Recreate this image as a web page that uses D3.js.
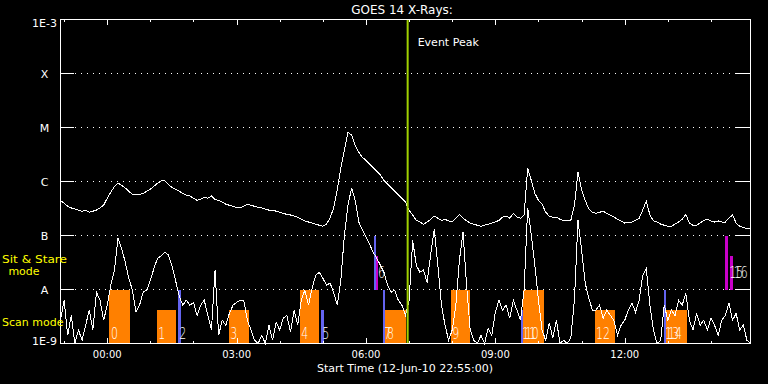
<!DOCTYPE html>
<meta charset="utf-8">
<style>
body{margin:0;background:#000;}
svg{display:block;background:#000;font-family:"DejaVu Sans",sans-serif;}
</style>
<body>
<script src="https://d3js.org/d3.v7.min.js"></script>
<script>
const width = 768, height = 384;
const startTime = new Date(Date.UTC(2010, 5, 12, 22, 55));
const endTime = new Date(Date.UTC(2010, 5, 13, 14, 55));
const stepMin = 5;
const eventPeak = new Date(Date.UTC(2010, 5, 13, 6, 58));

// log10 of flux (W/m^2), one value every 5 min from startTime
const longFlux = [
  -6.35,-6.40,-6.46,-6.49,-6.51,-6.53,-6.55,-6.53,-6.57,-6.55,
  -6.53,-6.49,-6.44,-6.31,-6.20,-6.09,-6.03,-6.07,-6.12,-6.18,
  -6.24,-6.25,-6.24,-6.22,-6.18,-6.14,-6.09,-6.03,-5.99,-5.98,
  -6.05,-6.11,-6.14,-6.18,-6.22,-6.25,-6.27,-6.31,-6.35,-6.33,
  -6.29,-6.31,-6.27,-6.33,-6.35,-6.38,-6.42,-6.44,-6.46,-6.48,
  -6.49,-6.46,-6.42,-6.44,-6.46,-6.48,-6.49,-6.51,-6.53,-6.53,
  -6.55,-6.57,-6.59,-6.61,-6.62,-6.64,-6.66,-6.70,-6.73,-6.75,
  -6.77,-6.79,-6.81,-6.83,-6.79,-6.68,-6.49,-6.16,-5.75,-5.42,
  -5.09,-5.14,-5.33,-5.46,-5.55,-5.61,-5.68,-5.74,-5.81,-5.88,
  -5.98,-6.05,-6.11,-6.18,-6.25,-6.31,-6.38,-6.53,-6.62,-6.72,
  -6.75,-6.79,-6.75,-6.70,-6.64,-6.68,-6.72,-6.70,-6.73,-6.75,
  -6.68,-6.61,-6.68,-6.73,-6.77,-6.79,-6.81,-6.83,-6.81,-6.79,
  -6.77,-6.75,-6.72,-6.66,-6.64,-6.68,-6.59,-6.66,-6.68,-6.62,
  -5.75,-5.98,-6.22,-6.35,-6.42,-6.57,-6.64,-6.66,-6.66,-6.70,
  -6.72,-6.72,-6.72,-6.44,-5.83,-6.16,-6.35,-6.51,-6.57,-6.59,
  -6.57,-6.55,-6.59,-6.62,-6.66,-6.70,-6.73,-6.77,-6.75,-6.75,
  -6.72,-6.68,-6.53,-6.36,-6.62,-6.73,-6.75,-6.79,-6.81,-6.83,
  -6.83,-6.79,-6.75,-6.70,-6.61,-6.77,-6.81,-6.81,-6.77,-6.72,
  -6.70,-6.73,-6.75,-6.73,-6.75,-6.75,-6.68,-6.62,-6.77,-6.83,
  -6.85,-6.88,-6.86
];
const shortFlux = [
  -8.57,-8.20,-8.85,-8.48,-9.00,-8.75,-8.94,-8.66,-8.38,-8.75,
  -8.05,-8.20,-8.57,-8.29,-7.92,-7.64,-7.05,-7.24,-7.49,-7.79,
  -8.01,-8.42,-8.29,-8.05,-8.01,-7.83,-7.61,-7.42,-7.38,-7.31,
  -7.36,-7.55,-7.83,-8.11,-8.29,-8.20,-8.29,-8.24,-8.48,-8.29,
  -8.20,-8.48,-8.75,-7.64,-8.85,-8.57,-8.66,-8.44,-8.29,-8.24,
  -8.20,-8.20,-8.57,-8.75,-8.94,-9.00,-8.85,-9.00,-8.66,-8.94,
  -8.61,-8.75,-8.53,-8.48,-8.79,-8.38,-8.66,-8.20,-8.01,-8.29,
  -7.98,-7.74,-7.68,-7.79,-7.92,-7.88,-8.05,-8.29,-7.83,-6.99,
  -6.44,-6.12,-6.35,-6.75,-6.90,-7.03,-7.16,-7.31,-7.42,-7.55,
  -7.68,-7.92,-8.05,-8.01,-8.20,-8.29,-8.48,-8.20,-7.09,-7.55,
  -7.68,-7.64,-7.87,-7.36,-6.88,-7.55,-8.29,-8.66,-8.94,-8.75,
  -8.29,-7.46,-6.94,-7.92,-8.75,-8.94,-9.00,-8.85,-9.00,-8.72,
  -8.85,-8.42,-8.20,-8.38,-8.29,-8.53,-8.20,-8.38,-8.57,-8.01,
  -6.49,-6.99,-7.55,-8.20,-8.75,-8.94,-8.62,-8.90,-8.57,-9.00,
  -8.94,-9.00,-8.90,-8.20,-6.72,-7.27,-7.88,-8.16,-8.38,-8.38,
  -8.29,-8.53,-8.38,-8.48,-8.57,-8.85,-8.66,-8.57,-8.38,-8.25,
  -8.42,-8.20,-7.74,-7.61,-8.29,-8.75,-9.00,-8.94,-8.29,-8.57,
  -8.38,-8.48,-8.20,-8.29,-8.07,-8.57,-8.75,-8.44,-8.66,-8.57,
  -8.75,-8.53,-8.66,-8.85,-8.57,-8.48,-8.25,-8.57,-8.44,-8.75,
  -8.66,-8.94,-9.00
];

const levelValues = [1e-9, 1e-8, 1e-7, 1e-6, 1e-5, 1e-4, 1e-3];
const levelLabels = ["1E-9", "A", "B", "C", "M", "X", "1E-3"];

// observation blocks (minutes after startTime)
const obsLabel = ["0","1","2","3","4","5","6","","7","8","9","11","10","12","13","14","15","16"];
const obsStart = [68,134,163,234,333,362,436,439,448,452,543,640,644,743,839,843,925,931];
const obsEnd   = [96,161,168,262,360,366,439,442,452,480,570,643,672,771,843,871,929,935];
const obsLow   = [1e-9,1e-9,1e-9,1e-9,1e-9,1e-9,1e-8,1e-8,1e-9,1e-9,1e-9,1e-9,1e-9,1e-9,1e-9,1e-9,1e-8,1e-8];
const obsHigh  = [1e-8,4.2e-9,1e-8,4.2e-9,1e-8,4.2e-9,1e-7,4.2e-8,1e-8,4.2e-9,1e-8,4.2e-9,1e-8,4.2e-9,1e-8,4.2e-9,1e-7,4.2e-8];
const obsMode  = ["raster","raster","scan","raster","raster","scan","scan","stare","scan","raster","raster","scan","raster","raster","scan","raster","stare","stare"];

const modeColor = {raster: "#ff8000", scan: "#6464f0", stare: "#c800c8"};

const svg = d3.select("body").append("svg")
    .attr("width", width)
    .attr("height", height);

const x = d3.scaleUtc().domain([startTime, endTime]).range([60.5, 750.5]);
const y = d3.scaleLog().domain([1e-9, 1e-3]).range([343.5, 19.5]);
const tAt = m => new Date(startTime.getTime() + m * 60000);

// dotted grid lines + ticks
svg.append("g").selectAll("line")
    .data(levelValues.slice(1, 6))
    .join("line")
    .attr("x1", 75).attr("x2", 736)
    .attr("y1", d => y(d)).attr("y2", d => y(d))
    .attr("stroke", "#fff")
    .attr("stroke-dasharray", "1,5");
const yt = svg.append("g").attr("stroke", "#fff");
levelValues.forEach(v => {
    yt.append("line").attr("x1", 60).attr("x2", 74).attr("y1", y(v)).attr("y2", y(v));
    yt.append("line").attr("x1", 736).attr("x2", 750).attr("y1", y(v)).attr("y2", y(v));
});

// observation bars
const obs = obsLabel.map((l, i) => ({
    label: l, s: tAt(obsStart[i]), e: tAt(obsEnd[i]),
    lo: obsLow[i], hi: obsHigh[i], mode: obsMode[i]
}));
svg.append("g").selectAll("rect")
    .data(obs)
    .join("rect")
    .attr("x", d => Math.round(x(d.s)))
    .attr("width", d => Math.max(2, Math.round(x(d.e)) - Math.round(x(d.s))))
    .attr("y", d => Math.round(y(d.hi)))
    .attr("height", d => Math.round(y(d.lo)) - Math.round(y(d.hi)))
    .attr("fill", d => modeColor[d.mode]);
svg.append("g").selectAll("text")
    .data(obs.filter(d => d.label))
    .join("text")
    .attr("x", d => x(d.s) + (d.lo > 1e-9 ? 4 : 1.5))
    .attr("y", d => d.lo > 1e-9 ? y(d.lo) - 12 : y(d.lo) - 5)
    .attr("fill", "#fff")
    .attr("font-size", 15)
    .attr("font-weight", 200)
    .attr("textLength", d => d.label.length * 7)
    .attr("lengthAdjust", "spacingAndGlyphs")
    .text(d => d.label);

// GOES curves
const line = d3.line()
    .x((d, i) => x(tAt(i * stepMin)))
    .y(d => y(Math.max(1e-9, Math.pow(10, d))));
[longFlux, shortFlux].forEach(s => {
    svg.append("path")
        .datum(s)
        .attr("d", line)
        .attr("fill", "none")
        .attr("stroke", "#fff")
        .attr("stroke-width", 1)
        .attr("shape-rendering", "crispEdges");
});

// event peak
svg.append("line")
    .attr("x1", x(eventPeak)).attr("x2", x(eventPeak))
    .attr("y1", 19).attr("y2", 343)
    .attr("stroke", "#a0d000")
    .attr("stroke-width", 2);
svg.append("text")
    .attr("x", x(eventPeak) + 10).attr("y", 46)
    .attr("fill", "#fff").attr("font-size", 11)
    .text("Event Peak");

// frame
svg.append("rect")
    .attr("x", 60.5).attr("y", 19.5)
    .attr("width", 690).attr("height", 324)
    .attr("fill", "none").attr("stroke", "#fff");

// time ticks top and bottom
const hours = d3.utcHour.range(startTime, endTime);
const tg = svg.append("g").attr("stroke", "#fff");
hours.forEach(h => {
    const major = h.getUTCHours() % 3 === 0;
    const len = major ? 6 : 3;
    const xp = Math.round(x(h)) + 0.5;
    tg.append("line").attr("x1", xp).attr("x2", xp).attr("y1", 19).attr("y2", 19 + len);
    tg.append("line").attr("x1", xp).attr("x2", xp).attr("y1", 344).attr("y2", 344 - len);
});
svg.append("g").selectAll("text")
    .data(d3.utcHour.every(3).range(startTime, endTime))
    .join("text")
    .attr("x", d => x(d))
    .attr("y", 358)
    .attr("text-anchor", "middle")
    .attr("fill", "#fff").attr("font-size", 10)
    .text(d3.utcFormat("%H:%M"));

// y labels
svg.append("g").selectAll("text")
    .data(levelValues)
    .join("text")
    .attr("x", 44.5)
    .attr("y", (d, i) => y(d) + (i === 6 ? 7.5 : i === 0 ? 1 : 4))
    .attr("text-anchor", "middle")
    .attr("fill", "#fff").attr("font-size", 11)
    .text((d, i) => levelLabels[i]);

// mode labels
const ml = svg.append("g").attr("fill", "#ffff00").attr("font-size", 11);
ml.append("text").attr("x", 2).attr("y", 263)
    .attr("textLength", 65).attr("lengthAdjust", "spacingAndGlyphs").text("Sit & Stare");
ml.append("text").attr("x", 24).attr("y", 275).attr("text-anchor", "middle").text("mode");
ml.append("text").attr("x", 2).attr("y", 326).text("Scan mode");

// titles
svg.append("text")
    .attr("x", 402).attr("y", 14)
    .attr("text-anchor", "middle")
    .attr("fill", "#fff").attr("font-size", 12)
    .text("GOES 14 X-Rays:");
svg.append("text")
    .attr("x", 405).attr("y", 372)
    .attr("text-anchor", "middle")
    .attr("fill", "#fff").attr("font-size", 11)
    .text("Start Time (12-Jun-10 22:55:00)");
</script>
</body>
</html>
